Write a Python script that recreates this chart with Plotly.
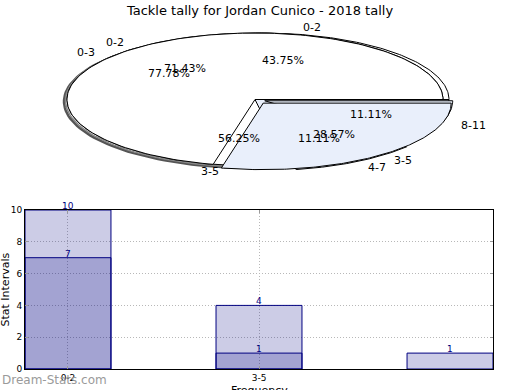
import numpy as np
import plotly.graph_objects as go

# ---------------- data ----------------
title_text = "Tackle tally for Jordan Cunico - 2018 tally"

pie_a_labels = ["0-2", "3-5"]
pie_a_values = [10, 4]
pie_b_labels = ["0-3", "4-7", "8-11"]
pie_b_values = [7, 1, 1]
pie_c_labels = ["0-2", "3-5"]
pie_c_values = [7, 9]

bar_categories = ["0-2", "3-5", "6-8"]
bar_light_values = [10, 4, 1]
bar_dark_values = [7, 1]
tick_labels = ["0-2", "3-5"]
y_ticks = [0, 2, 4, 6, 8, 10]

# ---------------- style ----------------
FONT = "DejaVu Sans"
CY, RA, RB = 99.5, 188.0, 66.5
WHITE = "#ffffff"
BLUE = "#e9effb"
BAR_FILL = "rgba(0,0,128,0.2)"
NAVY = "#000080"
GRID = "#b8b8b8"

# per-pie geometry (centre x and explode per slice)
pie_specs = [
    dict(labels=pie_c_labels, values=pie_c_values, cx=261.0, explode=[0.0, 0.0], colors=[WHITE, BLUE]),
    dict(labels=pie_b_labels, values=pie_b_values, cx=255.0, explode=[0.0, 0.08, 0.055], colors=[WHITE, BLUE, BLUE]),
    dict(labels=pie_a_labels, values=pie_a_values, cx=255.0, explode=[0.0, 0.07], colors=[WHITE, BLUE]),
]

fig = go.Figure()


def slice_angles(values):
    tot = float(sum(values))
    out, start = [], 0.0
    for v in values:
        ang = 360.0 * v / tot
        out.append((start, start + ang))
        start += ang
    return out


def wedge(t0, t1, cx, cy, dx=0.0, dy=0.0):
    th = np.radians(np.linspace(t0, t1, 160))
    xs = np.concatenate([[cx], cx + RA * np.cos(th), [cx]]) + dx
    ys = np.concatenate([[cy], cy - RB * np.sin(th), [cy]]) + dy
    return xs, ys


def add_poly(xs, ys, fill, line_color="black", width=1.0):
    fig.add_trace(go.Scatter(x=xs, y=ys, mode="lines", fill="toself",
                             fillcolor=fill, line=dict(color=line_color, width=width),
                             xaxis="x2", yaxis="y2", hoverinfo="skip", showlegend=False))


# shadow
xs, ys = wedge(0, 360, 255.0, CY, dx=-3, dy=2)
add_poly(xs, ys, "rgba(0,0,0,0)", "#555555", 2.5)
xs, ys = wedge(0, 360, 255.0, CY, dx=-1.5, dy=1)
add_poly(xs, ys, "rgba(0,0,0,0)", "#888888", 1.5)

annotations = []
for spec in pie_specs:
    tot = float(sum(spec["values"]))
    for lab, v, (a0, a1), e, col in zip(spec["labels"], spec["values"], slice_angles(spec["values"]),
                                        spec["explode"], spec["colors"]):
        m = np.radians((a0 + a1) / 2)
        c, s = np.cos(m), np.sin(m)
        dx, dy = RA * e * c, -RB * e * s
        xs, ys = wedge(a0, a1, spec["cx"], CY, dx, dy)
        add_poly(xs, ys, col, "black", 1)
        cx = spec["cx"] + dx
        cy = CY + dy
        annotations.append(dict(x=cx + 1.1 * RA * c, y=cy - 1.1 * RB * s, xref="x2", yref="y2",
                                text=lab, showarrow=False, xanchor="left" if c >= 0 else "right",
                                yanchor="middle", font=dict(family=FONT, size=11, color="black")))
        annotations.append(dict(x=cx + 0.6 * RA * c, y=cy - 0.6 * RB * s, xref="x2", yref="y2",
                                text="%.2f%%" % (100 * v / tot), showarrow=False,
                                xanchor="center", yanchor="middle",
                                font=dict(family=FONT, size=11, color="black")))

# ---------------- bars ----------------
idx = list(range(len(bar_categories)))
dark_idx = idx[:len(bar_dark_values)]
for xs_, vals in [(idx, bar_light_values), (dark_idx, bar_dark_values)]:
    fig.add_trace(go.Bar(x=xs_, y=vals, width=0.45,
                         marker=dict(color=BAR_FILL, line=dict(color=NAVY, width=1)),
                         showlegend=False, hoverinfo="skip"))
    for xv, yv in zip(xs_, vals):
        annotations.append(dict(x=xv, y=yv, xref="x", yref="y", text=str(yv), showarrow=False,
                                xanchor="center", yanchor="bottom", yshift=-3,
                                font=dict(family=FONT, size=9, color=NAVY)))

H_PLOT = 369.0
annotations += [
    dict(x=0, y=0.5 * 159 / H_PLOT, xref="paper", yref="paper", text="Stat Intervals",
         showarrow=False, textangle=-90, xanchor="center", yanchor="middle",
         xshift=-20, font=dict(family=FONT, size=11, color="black")),
    dict(x=0.5, y=0, xref="paper", yref="paper", text="Frequency", showarrow=False,
         xanchor="center", yanchor="top", yshift=-13, font=dict(family=FONT, size=11, color="black")),
    dict(x=0, y=0, xref="paper", yref="paper", text="Dream-Stats.com", showarrow=False,
         xanchor="left", yanchor="middle", xshift=-25, yshift=-11,
         font=dict(family=FONT, size=12, color="#9a9a9a")),
]

fig.update_layout(
    width=520, height=390,
    margin=dict(l=25, r=27, t=0, b=21, autoexpand=False),
    paper_bgcolor="white", plot_bgcolor="white",
    barmode="overlay",
    title=dict(text=title_text, x=0.5, xanchor="center", y=1 - 10 / 390, yanchor="middle",
               font=dict(family=FONT, size=13, color="black"), automargin=False),
    xaxis=dict(domain=[0, 1], range=[-0.225, 2.225], tickmode="array", tickvals=idx[:len(tick_labels)],
               ticktext=tick_labels, showgrid=True, gridcolor=GRID, griddash="1px,2px", gridwidth=1,
               showline=True, linecolor="black", linewidth=1, mirror="ticks", ticks="inside",
               ticklen=3, tickcolor="#999999", automargin=False,
               tickfont=dict(family=FONT, size=9, color="black"), zeroline=False, anchor="y"),
    yaxis=dict(domain=[0, 159 / H_PLOT], range=[0, 10], tickvals=y_ticks, showgrid=True,
               gridcolor=GRID, griddash="1px,2px", gridwidth=1, showline=True, linecolor="black",
               linewidth=1, mirror="ticks", ticks="inside", ticklen=3, tickcolor="#999999",
               zeroline=False, automargin=False,
               tickfont=dict(family=FONT, size=9, color="black"), anchor="x"),
    xaxis2=dict(domain=[0, 1], range=[25, 493], visible=False, anchor="y2"),
    yaxis2=dict(domain=[(H_PLOT - 185) / H_PLOT, 1], range=[185, 0], visible=False, anchor="x2"),
    annotations=annotations,
)

fig.write_html("out.html", config={"displayModeBar": False},
               post_script="document.body.style.margin='0';document.body.style.padding='0';")
